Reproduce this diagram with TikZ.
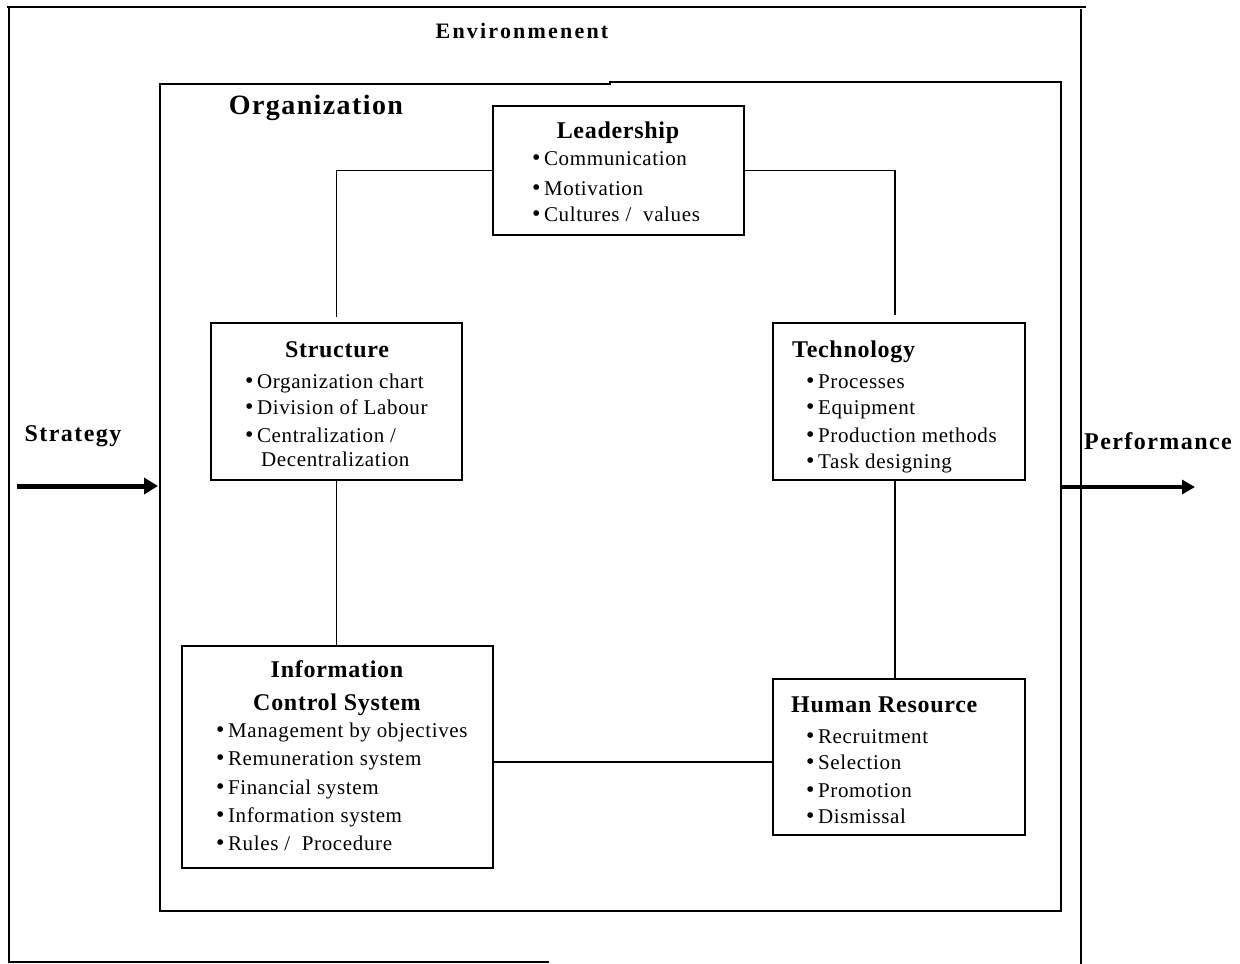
\documentclass[tikz,border=0pt]{standalone}
\usepackage{fontspec}
\setmainfont{Liberation Serif}
\newfontfamily\itemfont[LetterSpace=3]{Liberation Serif}
\newfontfamily\titlefont[LetterSpace=3]{Liberation Serif}
\newfontfamily\lblfont[LetterSpace=6]{Liberation Serif}
\newfontfamily\envfont[LetterSpace=10]{Liberation Serif}
\newfontfamily\orgfont[LetterSpace=5]{Liberation Serif}
\usetikzlibrary{arrows.meta}
\newcommand{\bul}{{\fontsize{24}{24}\selectfont\raisebox{-0.5pt}{•}}\,}
\tikzset{
  box/.style={draw, line width=1.8pt, inner sep=0, rectangle},
  frame/.style={line width=1.8pt, line cap=rect},
  link/.style={line width=1.8pt},
  ttl/.style={inner sep=0, anchor=base, font=\titlefont\bfseries\fontsize{24}{28}\selectfont},
  ttlw/.style={inner sep=0, anchor=base west, font=\titlefont\bfseries\fontsize{24}{28}\selectfont},
  itm/.style={inner sep=0, anchor=base west, font=\itemfont\fontsize{21}{24}\selectfont},
  lbl/.style={inner sep=0, anchor=base, font=\lblfont\bfseries\fontsize{24}{28}\selectfont},
  bigarrow/.style={line width=5pt, -{Triangle[length=14pt,width=16pt]}},
}
\begin{document}
\begin{tikzpicture}[x=1pt,y=-1pt]
\useasboundingbox (0,0) rectangle (1240,964);
% outer environment frame (open)
\draw[frame] (8,7) -- (1085,7);
\draw[frame] (9,7) -- (9,962);
\draw[frame] (10,962) -- (548,962);
\draw[frame] (1081,10) -- (1081,964);
% inner organization frame
\draw[frame] (160,911) -- (160,84) -- (610,84) -- (610,82) -- (1061,82) -- (1061,911) -- cycle;
% labels
\node[inner sep=0, anchor=base, font=\envfont\bfseries\fontsize{22}{26}\selectfont] (env) at (522,38) {Environmenent};
\node[inner sep=0, anchor=base, font=\orgfont\bfseries\fontsize{28}{32}\selectfont] (org) at (316,114) {Organization};
\node[lbl] (strat) at (73,441) {Strategy};
\node[lbl] (perf) at (1158,449) {Performance};
% boxes
\node[box, minimum width=251pt, minimum height=129pt] (lead) at (618.5,170.5) {};
\node[box, minimum width=251pt, minimum height=157pt] (struct) at (336.5,401.5) {};
\node[box, minimum width=252pt, minimum height=157pt] (tech) at (899,401.5) {};
\node[box, minimum width=311pt, minimum height=222pt] (info) at (337.5,757) {};
\node[box, minimum width=252pt, minimum height=156pt] (hr) at (899,757) {};
% Leadership text
\node[ttl] (leadT) at (618,138) {Leadership};
\node[itm] (l1) at (532,165) {\bul Communication};
\node[itm] (l2) at (532,195) {\bul Motivation};
\node[itm] (l3) at (532,221) {\bul Cultures /\ \ values};
% Structure text
\node[ttl] (structT) at (337,357) {Structure};
\node[itm] (s1) at (245,388) {\bul Organization chart};
\node[itm] (s2) at (245,414) {\bul Division of Labour};
\node[itm] (s3) at (245,442) {\bul Centralization /};
\node[itm] (s4) at (261,466) {Decentralization};
% Technology text
\node[ttlw] (techT) at (792,357) {Technology};
\node[itm] (t1) at (806,388) {\bul Processes};
\node[itm] (t2) at (806,414) {\bul Equipment};
\node[itm] (t3) at (806,442) {\bul Production methods};
\node[itm] (t4) at (806,468) {\bul Task designing};
% Information Control System text
\node[ttl] (infoT1) at (337,677) {Information};
\node[ttl] (infoT2) at (337,710) {Control System};
\node[itm] (i1) at (216,737) {\bul Management by objectives};
\node[itm] (i2) at (216,765) {\bul Remuneration system};
\node[itm] (i3) at (216,794) {\bul Financial system};
\node[itm] (i4) at (216,822) {\bul Information system};
\node[itm] (i5) at (216,850) {\bul Rules /\ \ Procedure};
% Human Resource text
\node[ttlw] (hrT) at (791,712) {Human Resource};
\node[itm] (h1) at (806,743) {\bul Recruitment};
\node[itm] (h2) at (806,769) {\bul Selection};
\node[itm] (h3) at (806,797) {\bul Promotion};
\node[itm] (h4) at (806,823) {\bul Dismissal};
% connectors
\coordinate (sTop) at ([yshift=5pt]struct.north);
\coordinate (tTop) at ([xshift=-4pt,yshift=7pt]tech.north);
\draw[link] (lead.west) -| (sTop);
\draw[link] (lead.east) -| (tTop);
\draw[link] (struct.south) -- (struct.south |- info.north);
\draw[link] ([xshift=-4pt]tech.south) -- ([xshift=-4pt]hr.north);
\draw[link] ([yshift=-5pt]info.east) -- ([yshift=-5pt]info.east -| hr.west);
% strategy / performance arrows
\coordinate (sIn) at (17,486);
\coordinate (pOut) at (1195,487);
\draw[bigarrow] (sIn) -- (158,486);
\draw[line width=3.5pt, -{Triangle[length=13pt,width=14pt]}] (1061,487) -- (pOut);
\end{tikzpicture}
\end{document}
